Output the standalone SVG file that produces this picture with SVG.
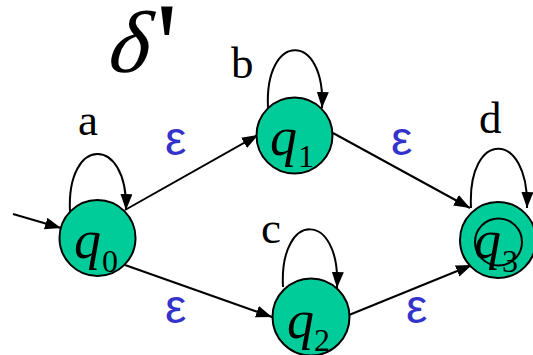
<svg xmlns="http://www.w3.org/2000/svg" width="533" height="355" viewBox="0 0 533 355">
<style>
.st{fill:#00CC99;stroke:#000;stroke-width:2}
.ring{fill:none;stroke:#000;stroke-width:2}
.ed{fill:none;stroke:#000;stroke-width:2;marker-end:url(#ah)}
.q{font-family:"Liberation Serif",serif;font-style:italic;font-size:54px;fill:#000}
.sub{font-family:"Liberation Serif",serif;font-size:32px;fill:#000}
.lb{font-family:"Liberation Serif",serif;font-size:45px;fill:#000}
.ep{font-family:"Liberation Sans",sans-serif;font-size:48px;fill:#3333CC}
</style>
<defs>
<marker id="ah" markerUnits="userSpaceOnUse" markerWidth="17" markerHeight="13" refX="16" refY="6" orient="auto">
<path d="M0,0 L16,6 L0,12 z" fill="#000"/>
</marker>
</defs>
<g id="title">
<text transform="translate(104,72) skewX(-16)" font-family="Liberation Serif,serif" font-size="88">δ</text>
<text x="156" y="86" font-family="Liberation Serif,serif" font-size="120">'</text>
</g>
<g id="connectors">
<path class="ed" d="M13,214 L61,228"/>
<path class="ed" d="M125,210 L258,135"/>
<path class="ed" d="M333,133 L470,208"/>
<path class="ed" d="M125,265 L272,317"/>
<path class="ed" d="M349,315 L472,265"/>
<path class="ed" d="M70,212 C66,135 128,135 126,210"/>
<path class="ed" d="M268,108 C264,31 326,31 322,108"/>
<path class="ed" d="M283,287 C279,210 341,210 337,288"/>
<path class="ed" d="M471,208 C467,129 529,129 527,208"/>
</g>
<g id="labels">
<text class="lb" x="78" y="135">a</text>
<text class="lb" x="231" y="78">b</text>
<text class="lb" x="261" y="243">c</text>
<text class="lb" x="479" y="133">d</text>
<text class="ep" x="165" y="155">ε</text>
<text class="ep" x="391" y="155">ε</text>
<text class="ep" x="165" y="323">ε</text>
<text class="ep" x="406" y="323">ε</text>
</g>
<g id="q0">
<circle class="st" cx="97.5" cy="238" r="38"/>
<text class="q" x="74" y="258">q</text><text class="sub" x="102" y="272">0</text>
</g>
<g id="q1">
<circle class="st" cx="294.5" cy="135.5" r="38"/>
<text class="q" x="270" y="155">q</text><text class="sub" x="298" y="167">1</text>
</g>
<g id="q2">
<circle class="st" cx="311" cy="317" r="38.5"/>
<text class="q" x="287" y="338">q</text><text class="sub" x="314" y="351">2</text>
</g>
<g id="q3">
<circle class="st" cx="498" cy="240" r="38"/>
<circle class="ring" cx="498.5" cy="242" r="23.5"/>
<text class="q" x="474" y="258">q</text><text class="sub" x="502" y="272">3</text>
</g>
</svg>
